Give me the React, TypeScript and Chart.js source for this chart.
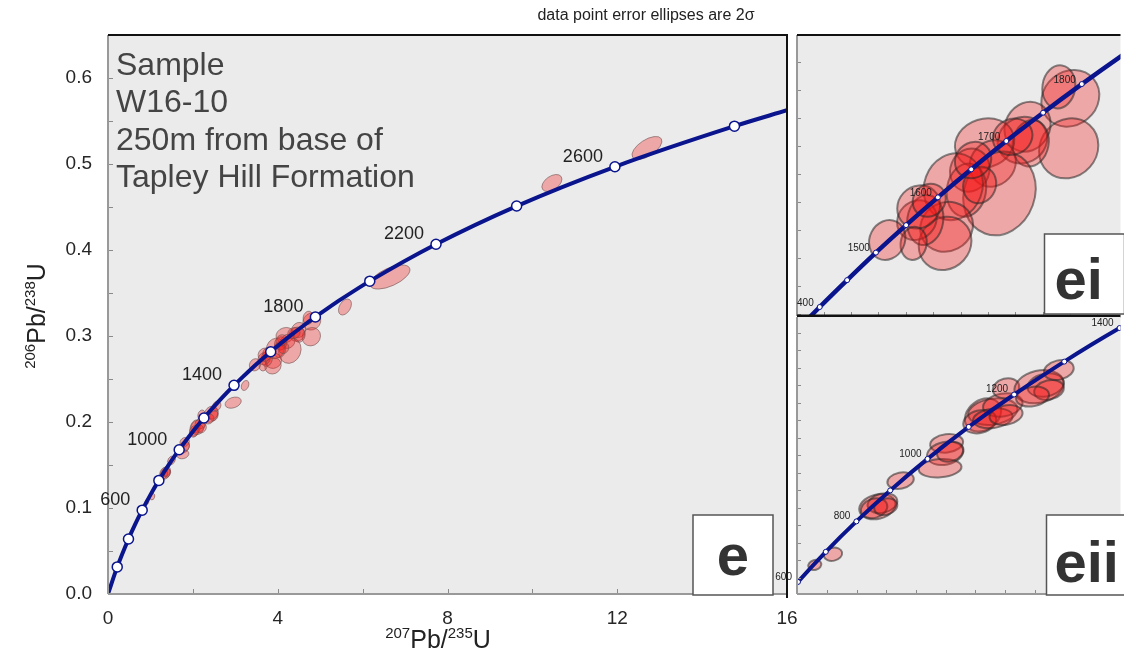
import React, { useEffect, useRef } from 'react';
import { Chart, registerables } from 'chart.js';
Chart.register(...registerables);

// ---------- DATA ----------
// Concordia reference points: age (Ma), 207Pb/235U, 206Pb/238U
const concordiaAge = [0, 200, 400, 500, 600, 700, 800, 900, 1000, 1100, 1200, 1300, 1350, 1400, 1450, 1500, 1550, 1600, 1650, 1700, 1750, 1800, 1850, 1900, 2000, 2200, 2400, 2600, 2800, 2877];
const concordiaX = [0, 0.2177, 0.4828, 0.6363, 0.8057, 0.9925, 1.1987, 1.4263, 1.6774, 1.9545, 2.2602, 2.5977, 2.7793, 2.9701, 3.1705, 3.381, 3.6021, 3.8344, 4.0784, 4.3348, 4.604, 4.8869, 5.1841, 5.4962, 6.1685, 7.7292, 9.6295, 11.945, 14.7617, 16.0];
const concordiaY = [0, 0.0315, 0.064, 0.0807, 0.0975, 0.1147, 0.1321, 0.1498, 0.1678, 0.1861, 0.2046, 0.2234, 0.233, 0.2426, 0.2522, 0.262, 0.2718, 0.2817, 0.2917, 0.3018, 0.3119, 0.3221, 0.3324, 0.3428, 0.3638, 0.4067, 0.4511, 0.4968, 0.544, 0.5625];

const mainMarkerAges = [200, 400, 600, 800, 1000, 1200, 1400, 1600, 1800, 2000, 2200, 2400, 2600, 2800];
const mainLabelAges = [600, 1000, 1400, 1800, 2200, 2600];
const eiMarkerAges = [1400, 1450, 1500, 1550, 1600, 1650, 1700, 1750, 1800];
const eiLabelAges = [1400, 1500, 1600, 1700, 1800];
const eiiMarkerAges = [600, 700, 800, 900, 1000, 1100, 1200, 1300, 1400];
const eiiLabelAges = [600, 800, 1000, 1200, 1400];

// Analyses: centre ratios, 2-sigma errors and error correlation
const grainX = [4.803, 4.719, 4.791, 4.49, 4.453, 4.513, 4.176, 4.236, 4.068, 4.285, 4.043, 3.947, 3.898, 3.887, 3.681, 3.742, 3.694, 3.657, 3.464, 4.14, 4.381, 4.092, 3.771,
  0.919, 1.041, 1.34, 1.374, 1.318, 1.396, 1.496, 1.806, 1.796, 1.762, 1.83, 2.051, 2.117, 2.184, 2.029, 2.117, 2.206, 2.206, 2.428, 2.472, 2.495, 2.561, 2.384,
  5.584, 6.645, 10.46, 12.7];
const grainY = [0.317, 0.3211, 0.2992, 0.3069, 0.3021, 0.301, 0.301, 0.2938, 0.2914, 0.2831, 0.2843, 0.2855, 0.2712, 0.2653, 0.2736, 0.2736, 0.2783, 0.2653, 0.2665, 0.2861, 0.3033, 0.295, 0.2807,
  0.1072, 0.1133, 0.1405, 0.1425, 0.1396, 0.1405, 0.1554, 0.1767, 0.171, 0.1625, 0.1719, 0.1929, 0.1948, 0.1986, 0.1891, 0.191, 0.1929, 0.2082, 0.2091, 0.21, 0.2072, 0.2186, 0.2034,
  0.3337, 0.3686, 0.4779, 0.5186];
const grainErrX = [0.212, 0.121, 0.217, 0.169, 0.181, 0.133, 0.217, 0.169, 0.145, 0.265, 0.145, 0.217, 0.193, 0.193, 0.145, 0.133, 0.157, 0.096, 0.133, 0.121, 0.145, 0.133, 0.121,
  0.044, 0.062, 0.122, 0.1, 0.089, 0.078, 0.089, 0.111, 0.122, 0.144, 0.089, 0.122, 0.166, 0.133, 0.111, 0.133, 0.111, 0.089, 0.166, 0.122, 0.1, 0.1, 0.111,
  0.153, 0.47, 0.236, 0.353];
const grainErrY = [0.0101, 0.0077, 0.0107, 0.0089, 0.0083, 0.0083, 0.0089, 0.0083, 0.0077, 0.0149, 0.0095, 0.0119, 0.0089, 0.0095, 0.0071, 0.0089, 0.0077, 0.0059, 0.0071, 0.0065, 0.0065, 0.0065, 0.0059,
  0.0029, 0.0038, 0.0072, 0.0057, 0.0057, 0.0048, 0.0048, 0.0053, 0.0067, 0.0053, 0.0057, 0.0095, 0.0076, 0.0067, 0.0067, 0.0057, 0.0057, 0.0057, 0.0095, 0.0067, 0.0057, 0.0057, 0.0057,
  0.0093, 0.014, 0.0099, 0.0134];
const grainRho = [0.12, 0.08, 0.1, 0.12, 0.08, 0.1, 0.12, 0.1, 0.08, 0.12, 0.1, 0.1, 0.08, 0.1, 0.12, 0.1, 0.08, 0.08, 0.12, 0.1, 0.1, 0.1, 0.1,
  0.15, 0.15, 0.2, 0.2, 0.2, 0.2, 0.2, 0.15, 0.2, 0.15, 0.2, 0.25, 0.2, 0.2, 0.2, 0.2, 0.2, 0.15, 0.2, 0.2, 0.2, 0.2, 0.2,
  0.4, 0.6, 0.45, 0.6];
// analyses shown only on the overview panel
const overviewOnlyX = [2.95, 3.23];
const overviewOnlyY = [0.2225, 0.2425];
const overviewOnlyErrX = [0.19, 0.09];
const overviewOnlyErrY = [0.0065, 0.0058];
const overviewOnlyRho = [0.3, 0.3];

const xTickLabels = [0, 4, 8, 12, 16];
const yTickLabels = [0.0, 0.1, 0.2, 0.3, 0.4, 0.5, 0.6];
const sampleLines = ['Sample', 'W16-10', '250m from base of', 'Tapley Hill Formation'];

// ---------- STYLE ----------
const NAVY = '#0a148c';
const FONT = '"Liberation Sans", Arial, Helvetica, sans-serif';
const BG = '#ebebeb';
const FILL = 'rgba(245,25,25,0.32)';

type Ell = { x: number; y: number; ex: number; ey: number; r: number };
const sharedGrains: Ell[] = grainX.map((x, i) => ({ x, y: grainY[i], ex: grainErrX[i], ey: grainErrY[i], r: grainRho[i] }));
const overviewGrains: Ell[] = overviewOnlyX.map((x, i) => ({ x, y: overviewOnlyY[i], ex: overviewOnlyErrX[i], ey: overviewOnlyErrY[i], r: overviewOnlyRho[i] }));

const curvePts = concordiaX.map((x, i) => ({ x, y: concordiaY[i] }));
const ptsForAges = (ages: number[]) => ages.map((a) => {
  const i = concordiaAge.indexOf(a);
  return { x: concordiaX[i], y: concordiaY[i], age: a };
});

type Side = { side: 'top' | 'bottom' | 'left' | 'right'; color: string; width: number; extend?: number };
type Panel = {
  name: string;
  grains: Ell[];
  strokeColor: string;
  strokeWidth: number;
  markerAges: number[];
  labelAges: number[];
  markerRadius: number;
  markerBorder: number;
  lineWidth: number;
  labelSize: number;
  labelDx: number;
  labelDy: number;
  clipLabels: boolean;
  xStep: number;
  yStep: number;
  tickLen: number;
  sides: Side[];
  box: { dl: number; dt: number; text: string; tx: number; ty: number; align: CanvasTextAlign; size: number };
  extra?: (chart: any) => void;
};

function drawEllipses(chart: any, list: Ell[], p: Panel) {
  const { ctx, chartArea: a, scales } = chart;
  const xs = scales.x, ys = scales.y;
  const kx = xs.getPixelForValue(1) - xs.getPixelForValue(0);
  const ky = ys.getPixelForValue(1) - ys.getPixelForValue(0);
  ctx.save();
  ctx.beginPath();
  ctx.rect(a.left, a.top, a.right - a.left, a.bottom - a.top);
  ctx.clip();
  for (const g of list) {
    const cx = xs.getPixelForValue(g.x);
    const cy = ys.getPixelForValue(g.y);
    const sx = g.ex * Math.abs(kx);
    const sy = g.ey * Math.abs(ky);
    const r = g.r * Math.sign(kx * ky);
    const A = sx * sx, D = sy * sy, B = r * sx * sy;
    const m = (A + D) / 2;
    const d = Math.sqrt(((A - D) / 2) ** 2 + B * B);
    const l1 = m + d, l2 = Math.max(m - d, 0.05);
    const th = 0.5 * Math.atan2(2 * B, A - D);
    ctx.beginPath();
    ctx.ellipse(cx, cy, Math.sqrt(l1), Math.sqrt(l2), th, 0, Math.PI * 2);
    ctx.fillStyle = FILL;
    ctx.fill();
    ctx.strokeStyle = p.strokeColor;
    ctx.lineWidth = p.strokeWidth;
    ctx.stroke();
  }
  ctx.restore();
}

function drawSup(ctx: CanvasRenderingContext2D, parts: [string, boolean][], size: number, supSize: number, rise: number) {
  let w = 0;
  for (const [t, s] of parts) {
    ctx.font = `${s ? supSize : size}px ${FONT}`;
    w += ctx.measureText(t).width;
  }
  let x = -w / 2;
  ctx.textAlign = 'left';
  ctx.textBaseline = 'alphabetic';
  for (const [t, s] of parts) {
    ctx.font = `${s ? supSize : size}px ${FONT}`;
    ctx.fillText(t, x, s ? -rise : 0);
    x += ctx.measureText(t).width;
  }
}

function makePlugin(p: Panel) {
  return {
    id: 'panel_' + p.name,
    beforeDraw(chart: any) {
      const { ctx, chartArea: a } = chart;
      ctx.save();
      ctx.fillStyle = BG;
      ctx.fillRect(a.left, a.top, a.right - a.left, a.bottom - a.top);
      ctx.restore();
    },
    beforeDatasetsDraw(chart: any) {
      drawEllipses(chart, p.grains, p);
    },
    afterDatasetsDraw(chart: any) {
      const { ctx, chartArea: a, scales } = chart;
      const xs = scales.x, ys = scales.y;
      // inward tick marks
      ctx.save();
      ctx.strokeStyle = '#8a8a8a';
      ctx.lineWidth = 1;
      ctx.beginPath();
      const i0 = Math.ceil(xs.min / p.xStep - 1e-6), i1 = Math.floor(xs.max / p.xStep + 1e-6);
      for (let i = i0; i <= i1; i++) {
        const px = Math.round(xs.getPixelForValue(i * p.xStep)) + 0.5;
        ctx.moveTo(px, a.bottom);
        ctx.lineTo(px, a.bottom - p.tickLen);
      }
      const j0 = Math.ceil(ys.min / p.yStep - 1e-6), j1 = Math.floor(ys.max / p.yStep + 1e-6);
      for (let j = j0; j <= j1; j++) {
        const py = Math.round(ys.getPixelForValue(j * p.yStep)) + 0.5;
        ctx.moveTo(a.left, py);
        ctx.lineTo(a.left + p.tickLen, py);
      }
      ctx.stroke();
      ctx.restore();
      // borders
      for (const s of p.sides) {
        ctx.save();
        ctx.strokeStyle = s.color;
        ctx.lineWidth = s.width;
        ctx.beginPath();
        const e = s.extend || 0;
        if (s.side === 'top') { ctx.moveTo(a.left, a.top); ctx.lineTo(a.right + e, a.top); }
        if (s.side === 'bottom') { ctx.moveTo(a.left, a.bottom); ctx.lineTo(a.right + e, a.bottom); }
        if (s.side === 'left') { ctx.moveTo(a.left, a.top); ctx.lineTo(a.left, a.bottom + e); }
        if (s.side === 'right') { ctx.moveTo(a.right, a.top - 1); ctx.lineTo(a.right, a.bottom + e); }
        ctx.stroke();
        ctx.restore();
      }
      // age labels
      ctx.save();
      if (p.clipLabels) {
        ctx.beginPath();
        ctx.rect(a.left, a.top, a.right - a.left, a.bottom - a.top);
        ctx.clip();
      }
      ctx.fillStyle = '#222';
      ctx.font = `${p.labelSize}px ${FONT}`;
      ctx.textAlign = 'right';
      ctx.textBaseline = 'middle';
      for (const pt of ptsForAges(p.labelAges)) {
        ctx.fillText(String(pt.age), xs.getPixelForValue(pt.x) - p.labelDx, ys.getPixelForValue(pt.y) - p.labelDy);
      }
      ctx.restore();
      // panel label box
      const b = p.box;
      const bl = a.right + b.dl, bt = a.bottom + b.dt;
      ctx.save();
      ctx.fillStyle = '#ffffff';
      ctx.fillRect(bl, bt, 80, 80);
      ctx.strokeStyle = '#555';
      ctx.lineWidth = 1.5;
      ctx.strokeRect(bl, bt, 80, 80);
      ctx.fillStyle = '#333';
      ctx.font = `bold ${b.size}px ${FONT}`;
      ctx.textAlign = b.align;
      ctx.textBaseline = 'alphabetic';
      ctx.fillText(b.text, bl + b.tx, bt + b.ty);
      ctx.restore();
      if (p.extra) p.extra(chart);
    },
  };
}

const mainExtra = (chart: any) => {
  const { ctx, chartArea: a } = chart;
  ctx.save();
  ctx.fillStyle = '#444';
  ctx.font = `32px ${FONT}`;
  ctx.textAlign = 'left';
  ctx.textBaseline = 'alphabetic';
  sampleLines.forEach((l, i) => ctx.fillText(l, a.left + 8, a.top + 40 + i * 37.3));
  ctx.fillStyle = '#222';
  ctx.font = `16px ${FONT}`;
  ctx.textAlign = 'center';
  ctx.fillText('data point error ellipses are 2\u03c3', 646, 20);
  ctx.fillStyle = '#222';
  ctx.translate(438, 648);
  drawSup(ctx, [['207', true], ['Pb/', false], ['235', true], ['U', false]], 25, 15, 10);
  ctx.setTransform(1, 0, 0, 1, 0, 0);
  ctx.translate(45, 316);
  ctx.rotate(-Math.PI / 2);
  drawSup(ctx, [['206', true], ['Pb/', false], ['238', true], ['U', false]], 25, 15, 10);
  ctx.restore();
};

const MAIN: Panel = {
  name: 'main', grains: [...sharedGrains, ...overviewGrains], strokeColor: 'rgba(110,80,80,0.6)', strokeWidth: 1,
  markerAges: mainMarkerAges, labelAges: mainLabelAges, markerRadius: 5, markerBorder: 1.5, lineWidth: 4,
  labelSize: 18, labelDx: 12, labelDy: 10, clipLabels: false, xStep: 2, yStep: 0.05, tickLen: 5,
  sides: [
    { side: 'left', color: '#999', width: 2 },
    { side: 'bottom', color: '#999', width: 2 },
    { side: 'top', color: '#111', width: 2 },
    { side: 'right', color: '#111', width: 2, extend: 4 },
  ],
  box: { dl: -94, dt: -79, text: 'e', tx: 40, ty: 60, align: 'center', size: 58 },
  extra: mainExtra,
};
const EI: Panel = {
  name: 'ei', grains: sharedGrains, strokeColor: 'rgba(40,40,40,0.55)', strokeWidth: 2,
  markerAges: eiMarkerAges, labelAges: eiLabelAges, markerRadius: 2.5, markerBorder: 1, lineWidth: 4.5,
  labelSize: 10, labelDx: 6, labelDy: 4, clipLabels: true, xStep: 0.2, yStep: 0.01, tickLen: 4,
  sides: [
    { side: 'left', color: '#999', width: 2 },
    { side: 'top', color: '#111', width: 2 },
    { side: 'bottom', color: '#111', width: 3 },
  ],
  box: { dl: -76, dt: -82, text: 'ei', tx: 10, ty: 65, align: 'left', size: 58 },
};
const EII: Panel = {
  name: 'eii', grains: sharedGrains, strokeColor: 'rgba(40,40,40,0.55)', strokeWidth: 2,
  markerAges: eiiMarkerAges, labelAges: eiiLabelAges, markerRadius: 2.5, markerBorder: 1, lineWidth: 4,
  labelSize: 10, labelDx: 6, labelDy: 5, clipLabels: false, xStep: 0.2, yStep: 0.01, tickLen: 4,
  sides: [
    { side: 'left', color: '#999', width: 2 },
    { side: 'bottom', color: '#999', width: 2 },
  ],
  box: { dl: -74, dt: -79, text: 'eii', tx: 8, ty: 67, align: 'left', size: 58 },
};

function datasets(p: Panel) {
  return [
    {
      data: curvePts, showLine: true, pointRadius: 0, borderColor: NAVY, borderWidth: p.lineWidth,
      cubicInterpolationMode: 'monotone', clip: 0, order: 2,
    },
    {
      data: ptsForAges(p.markerAges), showLine: false, pointRadius: p.markerRadius, pointHoverRadius: p.markerRadius,
      pointBackgroundColor: '#ffffff', pointBorderColor: NAVY, pointBorderWidth: p.markerBorder, clip: 0, order: 1,
    },
  ];
}

function insetConfig(p: Panel, pad: any, xr: number[], yr: number[]): any {
  return {
    type: 'scatter',
    data: { datasets: datasets(p) },
    options: {
      responsive: false, animation: false, events: [],
      layout: { padding: pad },
      plugins: { legend: { display: false }, tooltip: { enabled: false } },
      scales: {
        x: { type: 'linear', display: false, min: xr[0], max: xr[1] },
        y: { type: 'linear', display: false, min: yr[0], max: yr[1] },
      },
    },
    plugins: [makePlugin(p)],
  };
}

function mainConfig(): any {
  const tickFont = { family: FONT, size: 19 };
  return {
    type: 'scatter',
    data: { datasets: datasets(MAIN) },
    options: {
      responsive: false, animation: false, events: [],
      layout: { padding: { left: 0, top: 35, right: 337, bottom: 0 } },
      plugins: { legend: { display: false }, tooltip: { enabled: false } },
      scales: {
        x: {
          type: 'linear', min: xTickLabels[0], max: xTickLabels[xTickLabels.length - 1],
          grid: { display: false, drawTicks: false }, border: { display: false },
          ticks: { stepSize: 4, padding: 13, font: tickFont, color: '#262626', maxRotation: 0, autoSkip: false },
          afterFit: (s: any) => { s.height = 58; },
        },
        y: {
          type: 'linear', min: 0, max: 0.65,
          grid: { display: false, drawTicks: false }, border: { display: false },
          ticks: {
            stepSize: 0.1, includeBounds: false, padding: 16, font: tickFont, color: '#262626', autoSkip: false,
            callback: (v: number) => {
              const hit = yTickLabels.find((t) => Math.abs(t - v) < 1e-6);
              return hit === undefined ? '' : hit.toFixed(1);
            },
          },
          afterFit: (s: any) => { s.width = 108; },
        },
      },
    },
    plugins: [makePlugin(MAIN)],
  };
}

export default function App() {
  const mainRef = useRef<HTMLCanvasElement>(null);
  const eiRef = useRef<HTMLCanvasElement>(null);
  const eiiRef = useRef<HTMLCanvasElement>(null);
  useEffect(() => {
    const charts = [
      new Chart(mainRef.current as HTMLCanvasElement, mainConfig()),
      new Chart(eiRef.current as HTMLCanvasElement, insetConfig(EI, { left: 27, top: 35, right: 0, bottom: 14 }, [2.804, 5.17], [0.2394, 0.3396])),
      new Chart(eiiRef.current as HTMLCanvasElement, insetConfig(EII, { left: 37, top: 17, right: 0, bottom: 58 }, [0.799, 2.976], [0.0906, 0.2489])),
    ];
    return () => charts.forEach((c) => c.destroy());
  }, []);
  return (
    <div style={{ position: 'absolute', left: 0, top: 0, width: 1124, height: 652, background: '#ffffff', overflow: 'hidden' }}>
      <canvas ref={mainRef} width={1124} height={652} style={{ position: 'absolute', left: 0, top: 0 }} />
      <canvas ref={eiRef} width={354} height={330} style={{ position: 'absolute', left: 770, top: 0 }} />
      <canvas ref={eiiRef} width={364} height={352} style={{ position: 'absolute', left: 760, top: 300 }} />
    </div>
  );
}
